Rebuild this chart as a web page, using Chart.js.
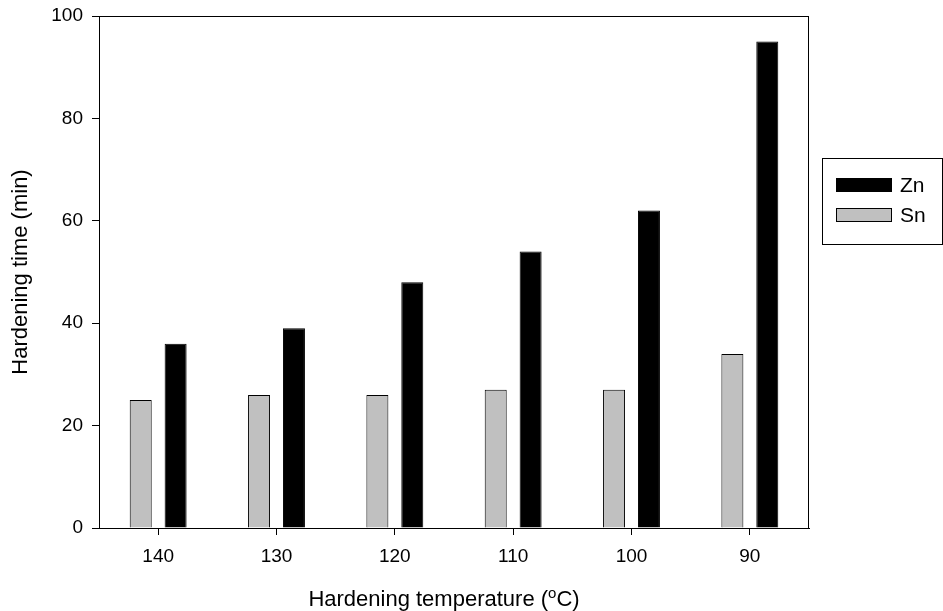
<!DOCTYPE html>
<html>
<head>
<meta charset="utf-8">
<script src="https://cdn.jsdelivr.net/npm/chart.js@4.4.1/dist/chart.umd.min.js"></script>
<style>
  html, body { margin: 0; padding: 0; background: #fff; }
  #wrap { width: 943px; height: 611px; }
</style>
</head>
<body>
<div id="wrap"><canvas id="chart"></canvas></div>
<script>
// data
const temperatures = ['140', '130', '120', '110', '100', '90'];
const snTimes = [25, 26, 26, 27, 27, 34];
const znTimes = [36, 39, 48, 54, 62, 95];
const yTicks = [0, 20, 40, 60, 80, 100];

const FONT = 'Arial, "Liberation Sans", sans-serif';

// box round the plot, axis titles and the boxed legend on the right
const framePlugin = {
    id: 'frame',
    afterDraw(chart) {
        const ctx = chart.ctx;
        const a = chart.chartArea;
        ctx.save();
        ctx.strokeStyle = '#000';
        ctx.lineWidth = 1;
        ctx.strokeRect(a.left + 0.5, a.top + 0.5, a.right - a.left - 1, a.bottom - a.top);

        // y title
        ctx.fillStyle = '#000';
        ctx.font = '22px ' + FONT;
        ctx.textAlign = 'center';
        ctx.textBaseline = 'middle';
        ctx.save();
        ctx.translate(21, (a.top + a.bottom) / 2);
        ctx.rotate(-Math.PI / 2);
        ctx.fillText('Hardening time (min)', 0, 0);
        ctx.restore();

        // x title with raised "o"
        const part1 = 'Hardening temperature (';
        const sup = 'o';
        const part2 = 'C)';
        ctx.font = '22px ' + FONT;
        const w1 = ctx.measureText(part1).width;
        const w3 = ctx.measureText(part2).width;
        ctx.font = '15px ' + FONT;
        const w2 = ctx.measureText(sup).width;
        const cx = (a.left + a.right) / 2 - 10;
        const y = 606;
        let x = cx - (w1 + w2 + w3) / 2;
        ctx.textAlign = 'left';
        ctx.textBaseline = 'alphabetic';
        ctx.font = '22px ' + FONT;
        ctx.fillText(part1, x, y);
        x += w1;
        ctx.font = '15px ' + FONT;
        ctx.fillText(sup, x, y - 8);
        x += w2;
        ctx.font = '22px ' + FONT;
        ctx.fillText(part2, x, y);

        // legend
        const lx = a.right + 13, ly = 158;
        ctx.strokeRect(lx + 0.5, ly + 0.5, 120, 86);
        const items = [chart.data.datasets[1], chart.data.datasets[0]];
        items.forEach((ds, i) => {
            const sy = ly + 20 + i * 30;
            ctx.fillStyle = ds.backgroundColor;
            ctx.fillRect(lx + 14, sy, 56, 14);
            ctx.strokeStyle = '#000';
            ctx.strokeRect(lx + 14.5, sy + 0.5, 55, 13);
            ctx.fillStyle = '#000';
            ctx.font = '21px ' + FONT;
            ctx.textBaseline = 'middle';
            ctx.fillText(ds.label, lx + 78, sy + 8);
        });
        ctx.restore();
    }
};

new Chart(document.getElementById('chart'), {
    type: 'bar',
    data: {
        labels: temperatures,
        datasets: [
            {
                label: 'Sn',
                data: snTimes,
                backgroundColor: '#c0c0c0',
                borderColor: '#000',
                borderWidth: 1,
                borderSkipped: 'bottom'
            },
            {
                label: 'Zn',
                data: znTimes,
                backgroundColor: '#000',
                borderColor: '#000',
                borderWidth: 1,
                borderSkipped: 'bottom'
            }
        ]
    },
    options: {
        responsive: true,
        maintainAspectRatio: false,
        animation: false,
        barPercentage: 0.63,
        categoryPercentage: 0.59,
        layout: { padding: { left: 0, right: 134, top: 16, bottom: 0 } },
        plugins: {
            legend: { display: false },
            tooltip: { enabled: false }
        },
        scales: {
            x: {
                grid: { drawOnChartArea: false, tickLength: 7, color: '#000', offset: false },
                border: { color: '#000' },
                ticks: { color: '#000', font: { family: FONT, size: 19 }, padding: 10 },
                afterFit(scale) {
                    scale.height = 83;
                    scale.paddingLeft = 0;
                    scale.paddingRight = 0;
                }
            },
            y: {
                min: 0,
                max: 100,
                afterBuildTicks(scale) { scale.ticks = yTicks.map(v => ({ value: v })); },
                grid: { drawOnChartArea: false, tickLength: 7, color: '#000' },
                border: { color: '#000' },
                ticks: { color: '#000', font: { family: FONT, size: 19 }, padding: 9 },
                afterFit(scale) {
                    scale.width = 99;
                    scale.paddingTop = 0;
                    scale.paddingBottom = 0;
                }
            }
        }
    },
    plugins: [framePlugin]
});
</script>
</body>
</html>
